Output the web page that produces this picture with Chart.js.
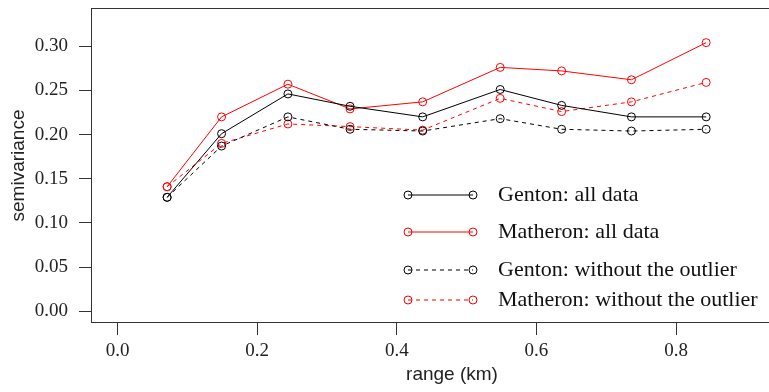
<!DOCTYPE html>
<html>
<head>
<meta charset="utf-8">
<script src="https://cdn.jsdelivr.net/npm/chart.js@4.4.1/dist/chart.umd.min.js"></script>
<style>
  html, body { margin: 0; padding: 0; background: #fff; overflow: hidden; }
  /* the plot box runs past the right edge of the window, as in the original */
  #wrap { width: 818px; height: 392px; }
</style>
</head>
<body>
<div id="wrap"><canvas id="semivarChart" width="818" height="392"></canvas></div>
<script>
// lag distances (km)
const rangeKm = [0.071, 0.149, 0.244, 0.333, 0.437, 0.548, 0.636, 0.736, 0.843];

// semivariance estimates
const gentonAll = [0.129, 0.201, 0.246, 0.232, 0.220, 0.251, 0.233, 0.220, 0.220];
const matheronAll = [0.141, 0.220, 0.257, 0.229, 0.237, 0.276, 0.272, 0.262, 0.304];
const gentonNoOutlier = [0.129, 0.187, 0.220, 0.206, 0.204, 0.218, 0.206, 0.204, 0.206];
const matheronNoOutlier = [0.141, 0.190, 0.212, 0.209, 0.205, 0.241, 0.226, 0.237, 0.259];

const seriesLabels = [
  "Genton: all data",
  "Matheron: all data",
  "Genton: without the outlier",
  "Matheron: without the outlier",
];

const xTicks = [0, 0.2, 0.4, 0.6, 0.8];
const yTicks = [0, 0.05, 0.10, 0.15, 0.20, 0.25, 0.30];

const toPoints = (ys) => ys.map((y, i) => ({ x: rangeKm[i], y: y }));

const makeSeries = (label, values, color, dashed) => ({
  label: label,
  data: toPoints(values),
  borderColor: color,
  borderWidth: 1,
  borderDash: dashed ? [4, 4] : [],
  pointRadius: 4,
  pointBorderWidth: 1,
  pointBorderColor: color,
  pointBackgroundColor: "rgba(0,0,0,0)",
  tension: 0,
  fill: false,
});

// fixed axis sizes, no extra label padding around the plot box
const fixSize = (prop, size) => (s) => {
  s[prop] = size;
  s.paddingTop = 0;
  s.paddingBottom = 0;
  s.paddingLeft = 0;
  s.paddingRight = 0;
};

// box around the plot region + the R-style legend
const boxAndLegend = {
  id: "boxAndLegend",
  afterDraw(chart) {
    const { ctx, chartArea: a } = chart;
    ctx.save();
    ctx.strokeStyle = "#333";
    ctx.lineWidth = 1;
    ctx.strokeRect(a.left + 0.5, a.top + 0.5, a.right - a.left - 1, a.bottom - a.top - 1);

    const rows = [195, 232, 270, 300];
    chart.data.datasets.forEach((ds, i) => {
      const y = rows[i];
      ctx.strokeStyle = ds.borderColor;
      ctx.setLineDash(ds.borderDash);
      ctx.beginPath();
      ctx.moveTo(408, y);
      ctx.lineTo(473, y);
      ctx.stroke();
      ctx.setLineDash([]);
      [408, 473].forEach((x) => {
        ctx.beginPath();
        ctx.arc(x, y, 4, 0, Math.PI * 2);
        ctx.stroke();
      });
      ctx.fillStyle = "#111";
      ctx.font = "22px 'Liberation Serif'";
      ctx.textBaseline = "middle";
      ctx.textAlign = "left";
      ctx.fillText(ds.label, 498, y);
    });
    ctx.restore();
  },
};

const ctx = document.getElementById("semivarChart").getContext("2d");

new Chart(ctx, {
  type: "line",
  data: {
    datasets: [
      makeSeries(seriesLabels[0], gentonAll, "#000000", false),
      makeSeries(seriesLabels[1], matheronAll, "#ff0000", false),
      makeSeries(seriesLabels[2], gentonNoOutlier, "#000000", true),
      makeSeries(seriesLabels[3], matheronNoOutlier, "#ff0000", true),
    ],
  },
  options: {
    responsive: false,
    devicePixelRatio: 1,
    animation: false,
    layout: { padding: { left: 0, top: 8, right: 0, bottom: 0 } },
    plugins: {
      legend: { display: false },
      tooltip: { enabled: false },
    },
    scales: {
      x: {
        type: "linear",
        min: -0.038,
        max: 0.996,
        afterBuildTicks: (s) => { s.ticks = xTicks.map((v) => ({ value: v })); },
        afterFit: fixSize("height", 69),
        grid: { drawOnChartArea: false, drawTicks: true, tickLength: 12, color: "#333" },
        border: { display: false },
        ticks: {
          font: { family: "Liberation Serif", size: 19 },
          color: "#222",
          padding: 5,
          maxRotation: 0,
          autoSkip: false,
          callback: (v) => v.toFixed(1),
        },
        title: {
          display: true,
          text: "range (km)",
          font: { family: "Liberation Sans", size: 19 },
          color: "#222",
          padding: { top: 0, bottom: 6 },
        },
      },
      y: {
        type: "linear",
        min: -0.0132,
        max: 0.3432,
        afterBuildTicks: (s) => { s.ticks = yTicks.map((v) => ({ value: v })); },
        afterFit: fixSize("width", 91),
        grid: { drawOnChartArea: false, drawTicks: true, tickLength: 12, color: "#333" },
        border: { display: false },
        ticks: {
          font: { family: "Liberation Serif", size: 19 },
          color: "#222",
          padding: 11,
          autoSkip: false,
          callback: (v) => v.toFixed(2),
        },
        title: {
          display: true,
          text: "semivariance",
          font: { family: "Liberation Sans", size: 19 },
          color: "#222",
          padding: { top: 7, bottom: 0 },
        },
      },
    },
  },
  plugins: [boxAndLegend],
});
</script>
</body>
</html>
